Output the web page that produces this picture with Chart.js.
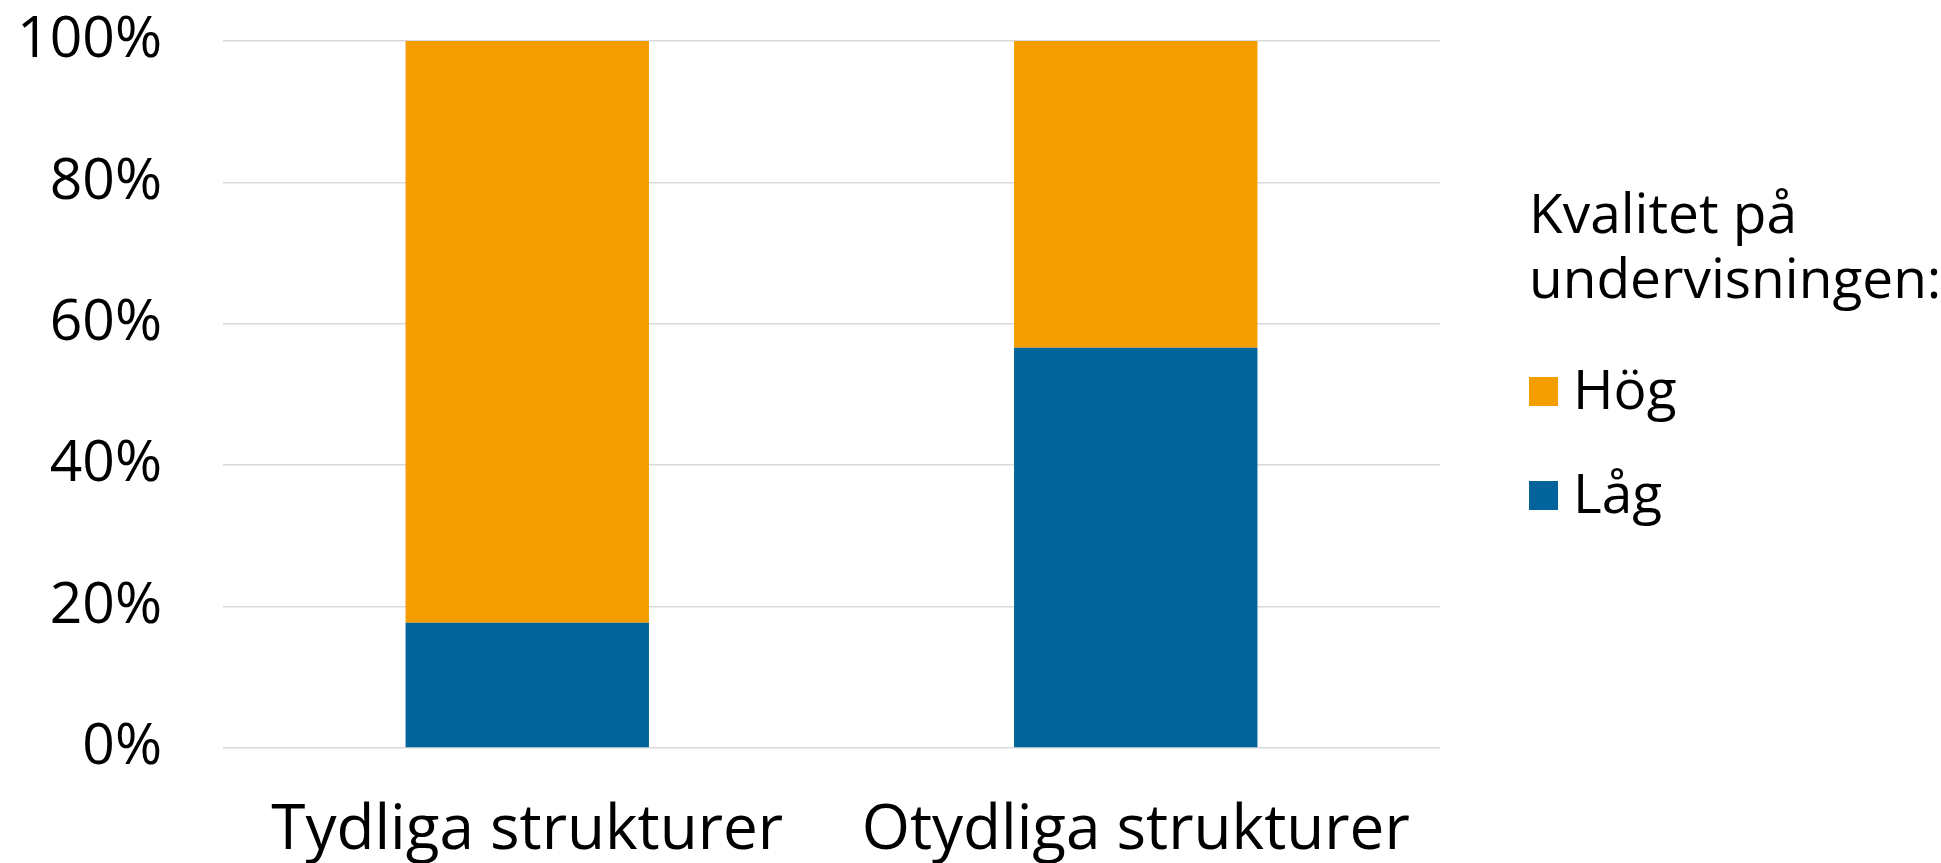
<!DOCTYPE html>
<html>
<head>
<meta charset="utf-8">
<script src="https://cdn.jsdelivr.net/npm/chart.js@4/dist/chart.umd.min.js"></script>
<style>
html,body{margin:0;padding:0;background:#fff;}
#wrap{width:1941px;height:863px;position:relative;}
</style>
</head>
<body>
<div id="wrap"><canvas id="c" width="1941" height="863"></canvas></div>
<script>
const categories = ["Tydliga strukturer", "Otydliga strukturer"];
const lagValues = [17.7, 56.6];
const hogValues = [82.3, 43.4];
const yTicks = [0, 20, 40, 60, 80, 100];
const legendTitle = ["Kvalitet på", "undervisningen:"];
const seriesNames = { hog: "Hög", lag: "Låg" };

const FONT = "'Open Sans', sans-serif";
const ORANGE = "#F39D00";
const BLUE = "#02649A";

const legendPlugin = {
  id: "customLegend",
  afterDraw(chart) {
    const ctx = chart.ctx;
    ctx.save();
    ctx.fillStyle = "#000";
    ctx.font = "55px " + FONT;
    ctx.textBaseline = "alphabetic";
    ctx.textAlign = "left";
    const x0 = 1529;
    ctx.fillText(legendTitle[0], x0, 233);
    ctx.fillText(legendTitle[1], x0, 298);
    const items = [chart.data.datasets[1], chart.data.datasets[0]];
    const baseY = [409, 513];
    items.forEach((ds, i) => {
      ctx.fillStyle = ds.backgroundColor;
      ctx.fillRect(x0, baseY[i] - 32, 29, 29);
      ctx.fillStyle = "#000";
      ctx.fillText(ds.label, x0 + 44, baseY[i]);
    });
    ctx.restore();
  }
};

new Chart(document.getElementById("c"), {
  type: "bar",
  data: {
    labels: categories,
    datasets: [
      { label: seriesNames.lag, data: lagValues, backgroundColor: BLUE, borderWidth: 0 },
      { label: seriesNames.hog, data: hogValues, backgroundColor: ORANGE, borderWidth: 0 }
    ]
  },
  options: {
    responsive: false,
    animation: false,
    devicePixelRatio: 1,
    layout: { padding: { top: 41, right: 501, left: 0, bottom: 0 } },
    plugins: { legend: { display: false }, tooltip: { enabled: false } },
    datasets: { bar: { categoryPercentage: 1, barPercentage: 0.4 } },
    scales: {
      x: {
        stacked: true,
        grid: { display: false, drawTicks: false },
        border: { display: false },
        ticks: { color: "#000", font: { family: FONT, size: 62 }, padding: 46, maxRotation: 0, autoSkip: false },
        afterFit(s) { s.height = 115; s.paddingLeft = 0; s.paddingRight = 0; }
      },
      y: {
        stacked: true,
        min: 0, max: 100,
        afterBuildTicks(s) { s.ticks = yTicks.map(v => ({ value: v })); },
        grid: { color: "#D9D9D9", lineWidth: 1.5, drawTicks: false },
        border: { display: false },
        ticks: { color: "#000", font: { family: FONT, size: 57 }, padding: 61, callback: v => v + "%" },
        afterFit(s) { s.width = 223; s.paddingTop = 0; s.paddingBottom = 0; }
      }
    }
  },
  plugins: [legendPlugin]
});
</script>
</body>
</html>
